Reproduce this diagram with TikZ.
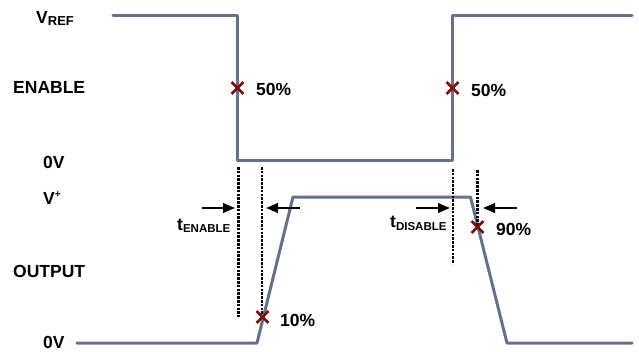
\documentclass[tikz,border=0pt]{standalone}
\usepackage{fontspec}
\setmainfont{Liberation Sans}
\usetikzlibrary{shapes.misc,arrows.meta}
\definecolor{wave}{RGB}{104,111,140}
\definecolor{xcol}{RGB}{125,14,14}
\tikzset{
  wavel/.style={draw=wave,line width=3pt,line join=round,line cap=round},
  guide/.style={draw=black,line width=2.6pt,dash pattern=on 2.6pt off 1.2pt},
  marker/.style={cross out,draw=xcol,line width=2.8pt,minimum size=9pt,inner sep=0pt},
  lbl/.style={anchor=base west,inner sep=0pt,font=\fontsize{17.5}{17.5}\selectfont\bfseries},
  tarrow/.style={draw=black,line width=2.2pt,-{Triangle[length=12pt,width=9.5pt]}},
}
\newcommand{\subtxt}[2]{\raisebox{-#2}{\fontsize{11.5}{11.5}\selectfont #1}}
\begin{document}
\begin{tikzpicture}[x=1pt,y=-1pt]
\useasboundingbox (0,0) rectangle (639,351);
% labels
\node[lbl] (vref) at (36,23) {V\raisebox{-2pt}{\fontsize{13}{13}\selectfont REF}};
\node[lbl] (enable) at (13,93) {ENABLE};
\node[lbl] (zt) at (43,168) {0V};
\node[lbl] (vplus) at (43,204) {V\raisebox{6.5pt}{\fontsize{10}{10}\selectfont +}};
\node[lbl] (output) at (13,277) {OUTPUT};
\node[lbl] (zb) at (43,348) {0V};
% enable waveform
\coordinate (e0) at (113,15);
\coordinate (e1) at (237.5,15);
\coordinate (e2) at (237.5,160);
\coordinate (e3) at (452.5,160);
\coordinate (e4) at (452.5,15);
\coordinate (e5) at (632,15);
\draw[wavel] (e0) -- (e1) -- (e2) -- (e3) -- (e4) -- (e5);
% output waveform
\coordinate (o0) at (77,343);
\coordinate (o1) at (257,343);
\coordinate (o2) at (293,197);
\coordinate (o3) at (470.5,197);
\coordinate (o4) at (507,343);
\coordinate (o5) at (632,343);
\draw[wavel] (o0) -- (o1) -- (o2) -- (o3) -- (o4) -- (o5);
% dashed guides
\coordinate (g1a) at (238.3,167); \coordinate (g1b) at (238.3,317);
\coordinate (g2a) at (262,167);   \coordinate (g2b) at (262,317);
\coordinate (g3a) at (453,169);   \coordinate (g3b) at (453,264);
\coordinate (g4a) at (477.5,170); \coordinate (g4b) at (477.5,227);
\draw[guide] (g1a) -- (g1b);
\draw[guide] (g2a) -- (g2b);
\draw[guide] (g3a) -- (g3b);
\draw[guide] (g4a) -- (g4b);
% markers
\node[marker] (m1) at (237.5,88) {};
\node[marker] (m2) at (452.5,88) {};
\node[marker] (m3) at (262.5,317) {};
\node[marker] (m4) at (477.5,227) {};
\node[lbl] (p1) at (256,95) {50\%};
\node[lbl] (p2) at (471,96) {50\%};
\node[lbl] (p3) at (280,326) {10\%};
\node[lbl] (p4) at (496,235) {90\%};
% timing arrows
\coordinate (a1s) at (202,208); \coordinate (a1e) at (235,208);
\coordinate (a2s) at (300,208); \coordinate (a2e) at (266,208);
\coordinate (a3s) at (416,208); \coordinate (a3e) at (450,208);
\coordinate (a4s) at (517,208); \coordinate (a4e) at (483,208);
\draw[tarrow] (a1s) -- (a1e);
\draw[tarrow] (a2s) -- (a2e);
\draw[tarrow] (a3s) -- (a3e);
\draw[tarrow] (a4s) -- (a4e);
\node[lbl] (ten) at (177,230) {t\subtxt{ENABLE}{2.5pt}};
\node[lbl] (tdis) at (390,227) {t\subtxt{DISABLE}{3pt}};
\end{tikzpicture}
\end{document}
